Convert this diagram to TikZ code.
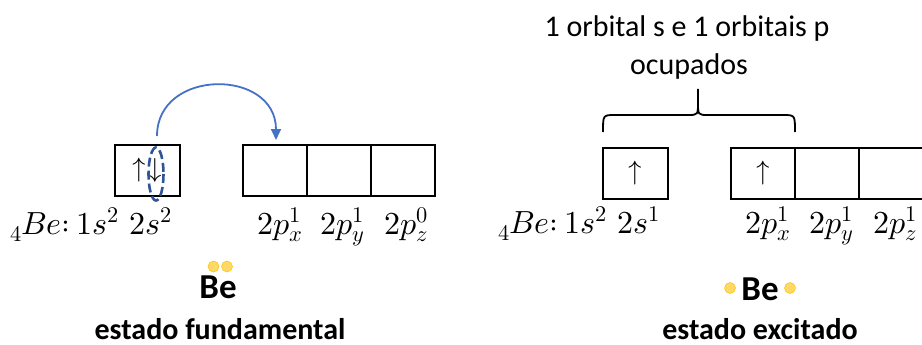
\documentclass[tikz,border=0pt]{standalone}
\usepackage{fontspec}
\usepackage{unicode-math}
\setmainfont{Carlito}
\setmathfont{Latin Modern Math}
\usetikzlibrary{arrows.meta}
\definecolor{arcblue}{HTML}{4472C4}
\definecolor{ellblue}{HTML}{2F5597}
\definecolor{dotfill}{HTML}{FFD966}
\definecolor{dotdraw}{HTML}{FFC000}
\begin{document}
\begin{tikzpicture}[x=1pt,y=-1pt,
  orb/.style={draw=black,line width=1.3pt,minimum width=64pt,minimum height=51pt,inner sep=0pt,outer sep=0pt},
  mlab/.style={font=\fontsize{32}{36}\selectfont,inner sep=0pt,anchor=base west},
  spin/.style={font=\fontsize{27}{30}\selectfont,inner sep=0pt},
  ttl/.style={font=\fontsize{30}{36}\selectfont,inner sep=0pt,anchor=base},
  bttl/.style={font=\bfseries\fontsize{30}{36}\selectfont,inner sep=0pt,anchor=base},
  bsym/.style={font=\bfseries\fontsize{35}{38}\selectfont,inner sep=0pt,anchor=base},
  edot/.style={circle,fill=dotfill,draw=dotdraw,line width=0.5pt,minimum size=11pt,inner sep=0pt},
  brc/.style={draw=black,line width=1.8pt},
  ]
\useasboundingbox (0,0) rectangle (922,345);

% ---------- left: ground state ----------
\node[orb,minimum width=65pt] (ls) at (147.5,170.5) {};
\node[orb] (lpx) at (275,170.5) {};
\node[orb] (lpy) at (339,170.5) {};
\node[orb] (lpz) at (403,170.5) {};
\node[spin] (lup) at (139,170) {$\uparrow$};
\node[spin] (ldn) at (155,170) {$\downarrow$};
\draw[ellblue,line width=2.6pt,dash pattern=on 9pt off 4pt] (156,174) ellipse [x radius=7.5, y radius=26.5];
\coordinate (arcS) at (157,136);
\coordinate (arcE) at (276,140);
\draw[arcblue,line width=1.8pt,-{Triangle[length=11pt,width=10pt]}] (arcS) .. controls (157,68) and (276,68) .. (arcE);

\node[mlab] (lcfg) at (10,234) {$_4Be{:}\,1s^2$};
\node[mlab] (l2s) at (129,234) {$2s^2$};
\node[mlab] (lpxl) at (257,234) {$2p_x^1$};
\node[mlab] (lpyl) at (320,234) {$2p_y^1$};
\node[mlab] (lpzl) at (384,234) {$2p_z^0$};

\node[bsym] (lbe) at (218,298) {Be};
\node[edot] (ld1) at (213.5,266.5) {};
\node[edot] (ld2) at (227,266.5) {};
\node[bttl] (lt) at (220,339) {estado fundamental};

% ---------- right: excited state ----------
\node[ttl] (rt1) at (687,37) {1 orbital s e 1 orbitais p};
\node[ttl] (rt2) at (689,75) {ocupados};
\draw[brc] (603,132) .. controls (603,115) .. (615,115) -- (688,115) .. controls (698,115) .. (698,102) -- (698,89);
\draw[brc] (795,132) .. controls (795,115) .. (783,115) -- (708,115) .. controls (698,115) .. (698,102);

\node[orb,minimum width=65pt] (rs) at (635.5,173.5) {};
\node[orb] (rpx) at (763,173.5) {};
\node[orb] (rpy) at (827,173.5) {};
\node[orb] (rpz) at (891,173.5) {};
\node[spin] (rup1) at (635,173) {$\uparrow$};
\node[spin] (rup2) at (763,173) {$\uparrow$};

\node[mlab] (rcfg) at (498,233) {$_4Be{:}\,1s^2$};
\node[mlab] (r2s) at (617,233) {$2s^1$};
\node[mlab] (rpxl) at (745,233) {$2p_x^1$};
\node[mlab] (rpyl) at (809,233) {$2p_y^1$};
\node[mlab] (rpzl) at (873,233) {$2p_z^1$};

\node[bsym] (rbe) at (760,300) {Be};
\node[edot] (rd1) at (730,288) {};
\node[edot] (rd2) at (790,288) {};
\node[bttl] (rtt) at (760,339) {estado excitado};
\end{tikzpicture}
\end{document}
